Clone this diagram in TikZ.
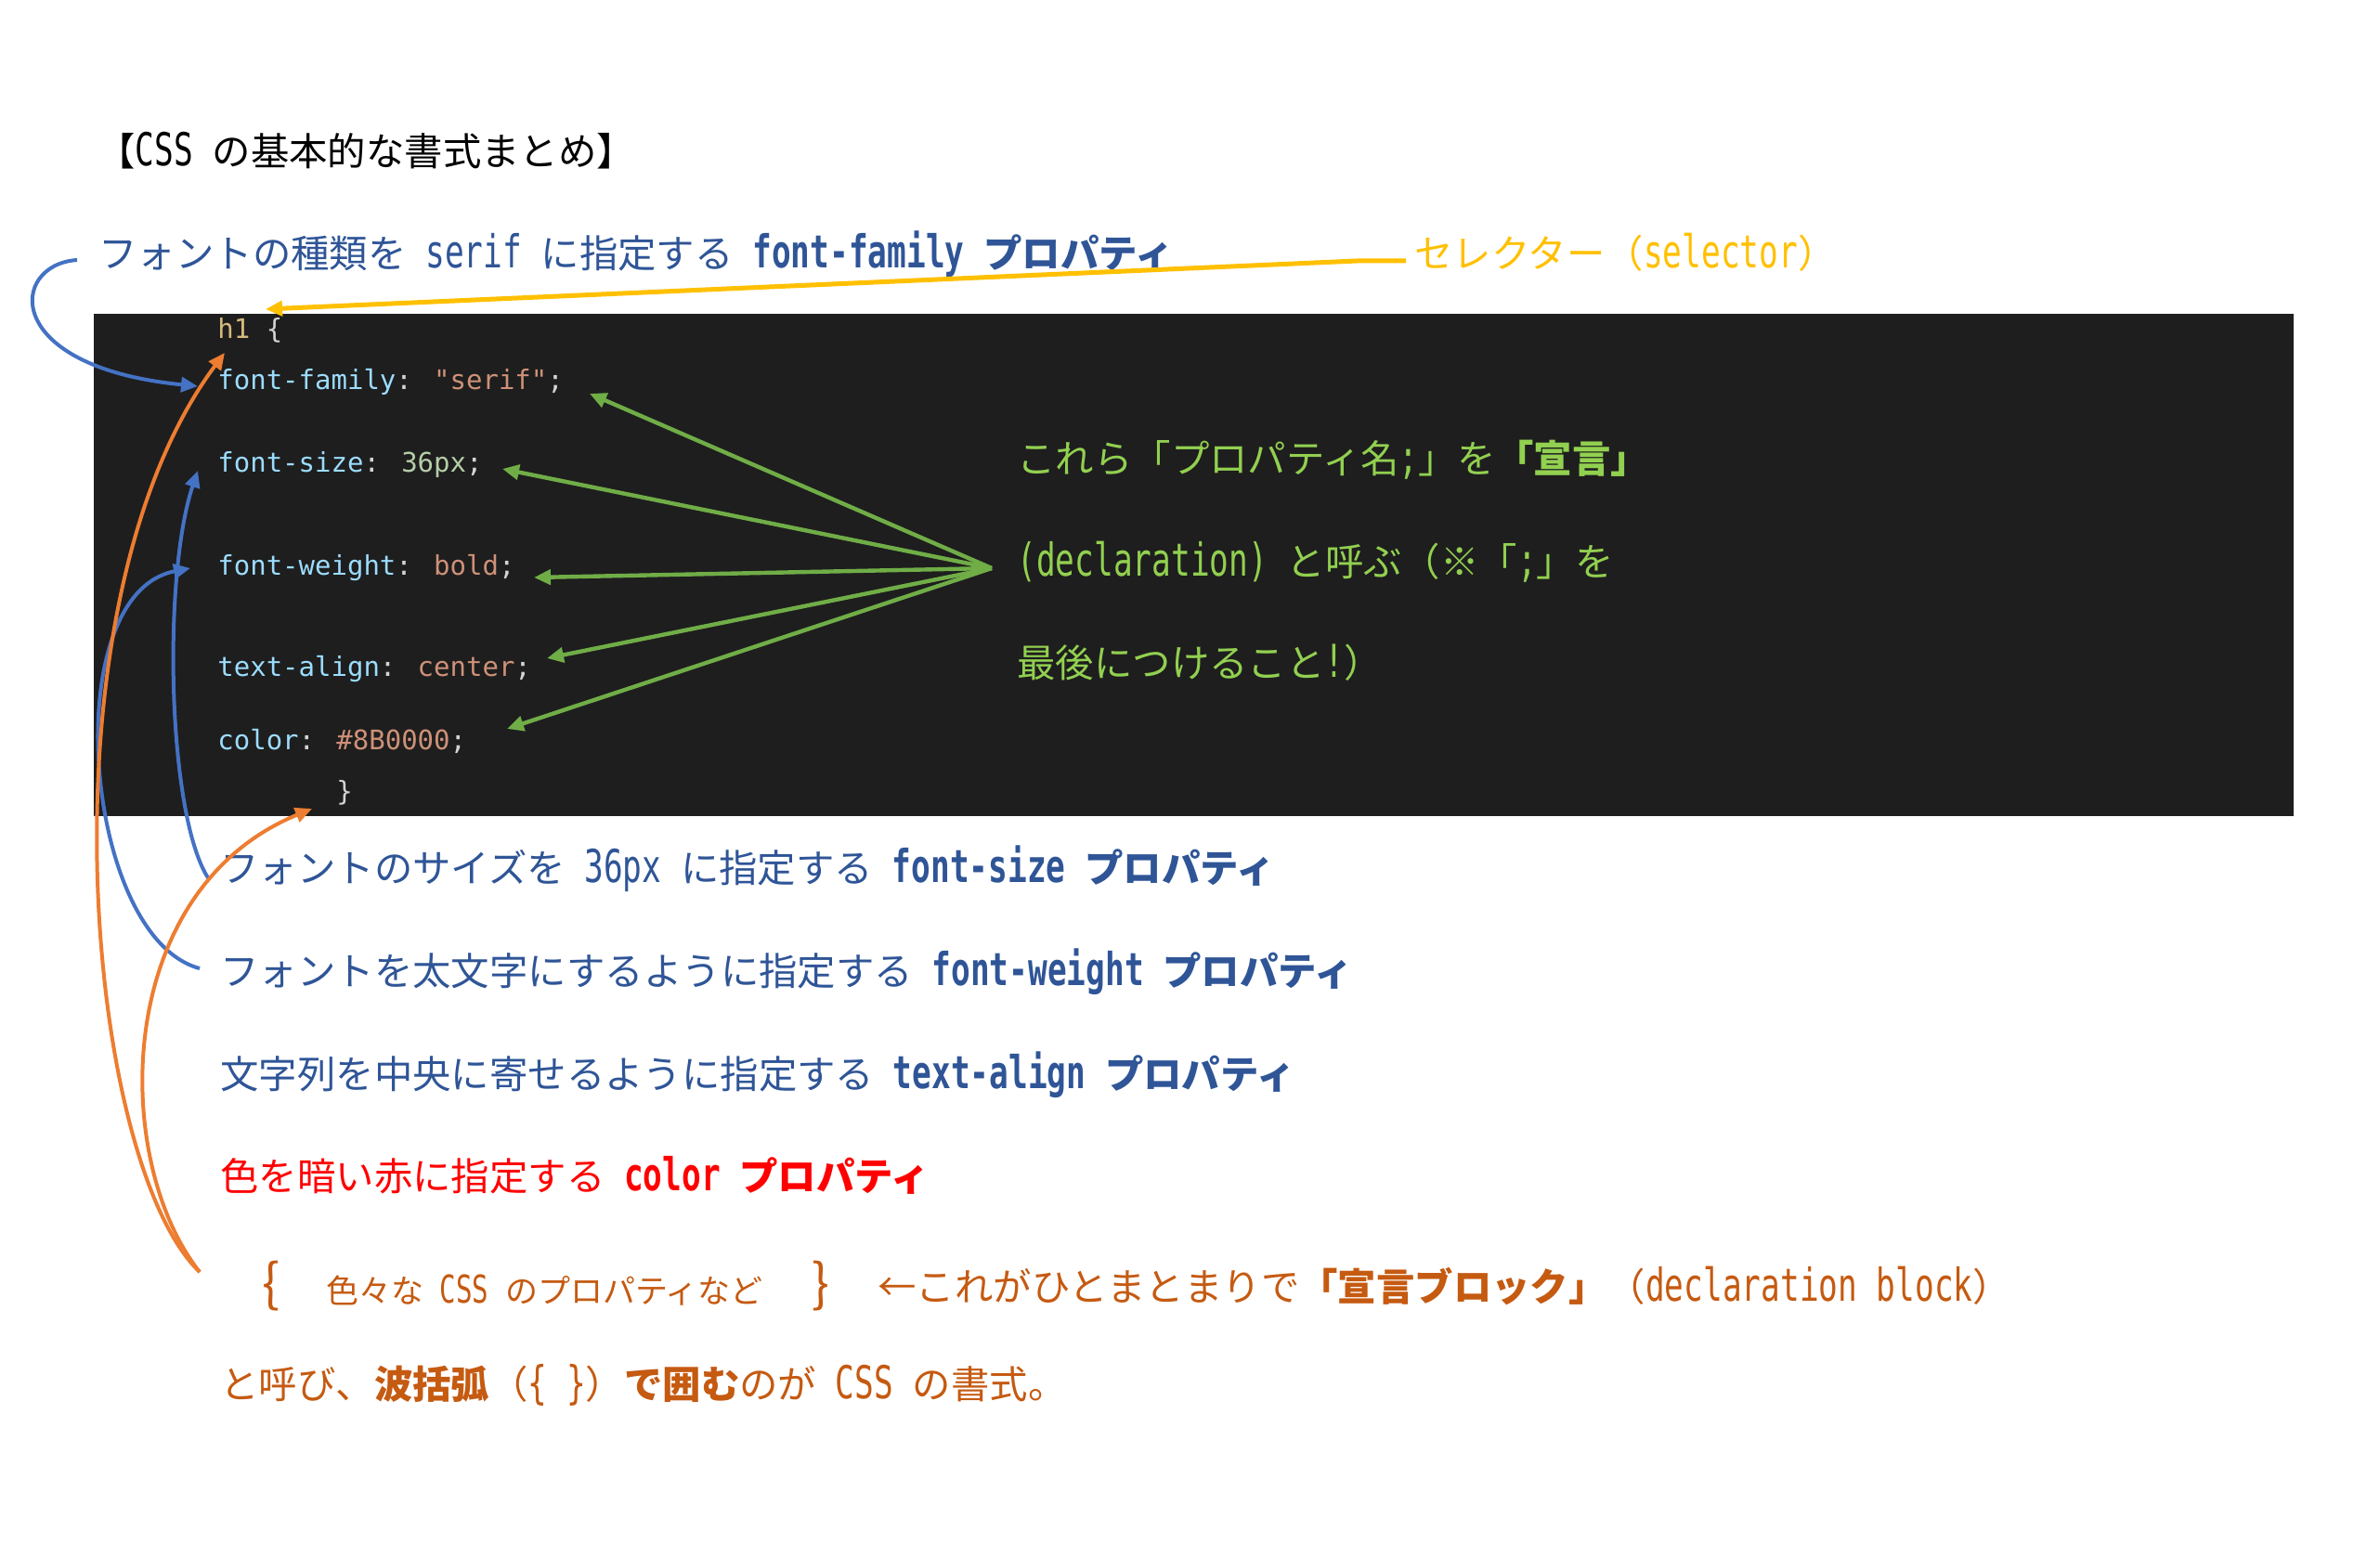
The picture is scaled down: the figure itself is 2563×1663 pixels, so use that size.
\documentclass[tikz,border=0pt]{standalone}
\usepackage{fontspec}
\setmainfont{Noto Sans CJK JP}
\newfontfamily\codefont{DejaVu Sans Mono}
\newfontfamily\halfwidth[Scale=1.18,FakeStretch=0.705]{DejaVu Sans Mono}
\newcommand{\hw}[1]{{\halfwidth #1}}
\usetikzlibrary{arrows.meta}
\definecolor{codebg}{HTML}{1E1E1E}
\definecolor{csel}{HTML}{D7BA7D}
\definecolor{cpunc}{HTML}{D4D4D4}
\definecolor{cprop}{HTML}{9CDCFE}
\definecolor{cstr}{HTML}{CE9178}
\definecolor{cnum}{HTML}{B5CEA8}
\definecolor{jblue}{HTML}{2F5597}
\definecolor{jyellow}{HTML}{FFC000}
\definecolor{jgreen}{HTML}{92D050}
\definecolor{agreen}{HTML}{70AD47}
\definecolor{ablue}{HTML}{4472C4}
\definecolor{aorange}{HTML}{ED7D31}
\definecolor{jorange}{HTML}{C55A11}
\definecolor{jred}{HTML}{FF0000}
\begin{document}
\begin{tikzpicture}[x=0.5pt,y=-0.5pt,
  jtext/.style={anchor=west,inner sep=0pt,font=\fontsize{20.7pt}{24pt}\selectfont,text height=18.2pt,text depth=2.5pt},
  jsmall/.style={anchor=west,inner sep=0pt,font=\fontsize{17.5pt}{20pt}\selectfont,text height=15.4pt,text depth=2.1pt},
  bracetext/.style={anchor=west,inner sep=0pt,font=\fontsize{28pt}{30pt}\selectfont,text height=22pt,text depth=6pt,text=jorange},
  codeline/.style={anchor=west,inner sep=0pt,font=\codefont\fontsize{14.5pt}{17pt}\selectfont,text height=11pt,text depth=3.5pt},
  garrow/.style={draw=agreen,line width=2.2pt,-{Triangle[length=9pt,width=8pt]}},
  barrow/.style={draw=ablue,line width=2pt,-{Triangle[length=9pt,width=8pt]}},
  oarrow/.style={draw=aorange,line width=2pt,-{Triangle[length=9pt,width=8pt]}},
  yarrow/.style={draw=jyellow,line width=2.5pt,-{Triangle[length=9pt,width=8pt]}}
]
\useasboundingbox (0,0) rectangle (2563,1663);
\fill[white] (0,0) rectangle (2563,1663);
% code panel
\fill[codebg] (101,338) rectangle (2470,879);

% title
\node[jtext] (title) at (104,163) {【\hw{CSS }の基本的な書式まとめ】};

% code lines
\node[codeline] (c0) at (234,357) {\textcolor{csel}{h1} \textcolor{cpunc}{\{}};
\node[codeline] (c1) at (234,412) {\textcolor{cprop}{font-family}\textcolor{cpunc}{:} \textcolor{cstr}{"serif"}\textcolor{cpunc}{;}};
\node[codeline] (c2) at (234,501) {\textcolor{cprop}{font-size}\textcolor{cpunc}{:} \textcolor{cnum}{36px}\textcolor{cpunc}{;}};
\node[codeline] (c3) at (234,612) {\textcolor{cprop}{font-weight}\textcolor{cpunc}{:} \textcolor{cstr}{bold}\textcolor{cpunc}{;}};
\node[codeline] (c4) at (234,721) {\textcolor{cprop}{text-align}\textcolor{cpunc}{:} \textcolor{cstr}{center}\textcolor{cpunc}{;}};
\node[codeline] (c5) at (234,800) {\textcolor{cprop}{color}\textcolor{cpunc}{:} \textcolor{cstr}{\#8B0000}\textcolor{cpunc}{;}};
\node[codeline] (c6) at (362,855) {\textcolor{cpunc}{\}}};

% annotation texts
\node[jtext,text=jblue] (b1) at (106,273) {フォントの種類を\hw{ serif }に指定する\hw{ }\textbf{\hw{font-family }プロパティ}};
\node[jtext,text=jyellow] (sel) at (1523,273) {セレクター（\hw{selector}）};
\node[jtext,text=jgreen] (g1) at (1095,494) {これら「プロパティ名\hw{;}」を\textbf{「宣言」}};
\node[jtext,text=jgreen] (g2) at (1095,605) {\hw{(declaration) }と呼ぶ（※「\hw{;}」を};
\node[jtext,text=jgreen] (g3) at (1095,714) {最後につけること\hw{!}）};
\node[jtext,text=jblue] (b2) at (237,935) {フォントのサイズを\hw{ 36px }に指定する\hw{ }\textbf{\hw{font-size }プロパティ}};
\node[jtext,text=jblue] (b3) at (237,1046) {フォントを太文字にするように指定する\hw{ }\textbf{\hw{font-weight }プロパティ}};
\node[jtext,text=jblue] (b4) at (237,1157) {文字列を中央に寄せるように指定する\hw{ }\textbf{\hw{text-align }プロパティ}};
\node[jtext,text=jred] (rd) at (237,1267) {色を暗い赤に指定する\hw{ }\textbf{\hw{color }プロパティ}};
\node[bracetext] (lbr) at (282,1386) {\{};
\node[jsmall,text=jorange] (props) at (351,1390) {色々な\hw{ CSS }のプロパティなど};
\node[bracetext] (rbr) at (874,1386) {\}};
\node[jtext,text=jorange] (blk) at (945,1386) {←これがひとまとまりで\textbf{「宣言ブロック」}（\hw{declaration block}）};
\node[jtext,text=jorange] (last) at (237,1491) {と呼び、\textbf{波括弧}（\hw{\{ \}}）\textbf{で囲む}のが\hw{ CSS }の書式。};

% named coordinates for free ends
\coordinate (gsrc) at (1068,612);
\coordinate (t1) at (635,424);
\coordinate (t2) at (541,505);
\coordinate (t3) at (575,622);
\coordinate (t4) at (589,709);
\coordinate (t5) at (546,785);
\coordinate (ybend) at (1461,281);
\coordinate (ytip) at (286,333);
\coordinate (btip1) at (213,416);
\coordinate (btip2) at (213,507);
\coordinate (btip3) at (205,612);
\coordinate (ostart) at (215,1370);
\coordinate (otip1) at (242,380);
\coordinate (otip2) at (336,871);

% green arrows
\draw[garrow] (gsrc) -- (t1);
\draw[garrow] (gsrc) -- (t2);
\draw[garrow] (gsrc) -- (t3);
\draw[garrow] (gsrc) -- (t4);
\draw[garrow] (gsrc) -- (t5);

% yellow selector arrow
\draw[yarrow] ([shift={(-9,8)}]sel.west) -- (ybend) -- (ytip);

% blue arrows
\draw[barrow] ([shift={(-23,7)}]b1.west) .. controls (10,285) and (0,395) .. (btip1);
\draw[barrow] ([shift={(-12,12)}]b2.west) .. controls (180,880) and (175,620) .. (btip2);
\draw[barrow] ([shift={(-22,-3)}]b3.west) .. controls (90,1010) and (60,640) .. (btip3);

% orange arrows
\draw[oarrow] (ostart) .. controls (90,1250) and (40,650) .. (otip1);
\draw[oarrow] (ostart) .. controls (120,1250) and (120,960) .. (otip2);
\end{tikzpicture}
\end{document}
